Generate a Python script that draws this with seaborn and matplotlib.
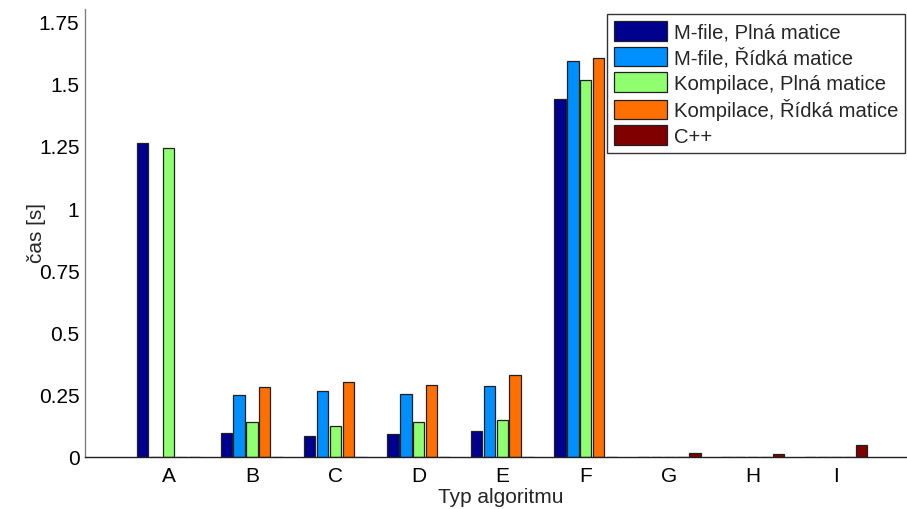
import matplotlib
matplotlib.use("Agg")
import matplotlib.pyplot as plt
import seaborn as sns
import pandas as pd

# Algorithm types and measured run times in seconds
categories = ["A", "B", "C", "D", "E", "F", "G", "H", "I"]
series_names = [
    "M-file, Plná matice",
    "M-file, Řídká matice",
    "Kompilace, Plná matice",
    "Kompilace, Řídká matice",
    "C++",
]
mfile_full = [1.26, 0.096, 0.083, 0.094, 0.103, 1.44, 0.0, 0.0, 0.0]
mfile_sparse = [0.0, 0.249, 0.265, 0.254, 0.286, 1.593, 0.0, 0.0, 0.0]
comp_full = [1.243, 0.140, 0.126, 0.140, 0.148, 1.516, 0.0, 0.0, 0.0]
comp_sparse = [0.0, 0.281, 0.300, 0.288, 0.328, 1.604, 0.0, 0.0, 0.0]
cpp = [0.0, 0.0, 0.0, 0.0, 0.0, 0.0, 0.016, 0.011, 0.048]

y_ticks = [0, 0.25, 0.5, 0.75, 1, 1.25, 1.5, 1.75]
y_tick_labels = ["0", "0.25", "0.5", "0.75", "1", "1.25", "1.5", "1.75"]

colors = ["#00008F", "#008FFF", "#8FFF70", "#FF7000", "#800000"]

rows = []
for name, vals in zip(series_names,
                      [mfile_full, mfile_sparse, comp_full, comp_sparse, cpp]):
    for cat, v in zip(categories, vals):
        rows.append({"Typ": cat, "Řada": name, "čas": v})
df = pd.DataFrame(rows)

sns.set_style("white")
plt.rcParams["font.family"] = ["Liberation Sans", "DejaVu Sans"]
FS = 15

fig = plt.figure(figsize=(9.07, 5.10), dpi=100)
ax = fig.add_axes([85 / 907, 52 / 510, 822 / 907, 448 / 510])

sns.barplot(
    data=df, x="Typ", y="čas", hue="Řada", hue_order=series_names,
    order=categories, palette=colors, width=0.77, gap=0.12,
    edgecolor="#202020", linewidth=0.9, errorbar=None, ax=ax,
    saturation=1,
)

ax.set_xlim(-1, 8.85)
ax.set_ylim(0, 1.8)
ax.set_yticks(y_ticks)
ax.set_yticklabels(y_tick_labels)
ax.tick_params(axis="both", direction="in", length=5, width=0.8,
               colors="#303030", labelcolor="black", labelsize=FS)
ax.tick_params(axis="y", pad=4)
ax.tick_params(axis="x", pad=6.5)

for side in ["top", "right"]:
    ax.spines[side].set_visible(False)
ax.spines["left"].set_color("#808080")
ax.spines["bottom"].set_color("#202020")
ax.spines["left"].set_linewidth(1.0)
ax.spines["bottom"].set_linewidth(1.0)

ax.set_xlabel("Typ algoritmu", fontsize=FS)
ax.set_ylabel("čas [s]", fontsize=FS)
ax.xaxis.set_label_coords(0.506, -0.068)
ax.yaxis.set_label_coords(-0.047, 0.503)

leg = ax.legend(
    loc="upper left", bbox_to_anchor=(607 / 907, 1 - 15 / 510),
    bbox_transform=fig.transFigure, fontsize=14.6, frameon=True,
    fancybox=False, handlelength=2.6, handleheight=1.1,
    handletextpad=0.35, labelspacing=0.25, borderaxespad=0,
    borderpad=0.35,
)
leg.get_frame().set_edgecolor("black")
leg.get_frame().set_linewidth(1.0)

fig.savefig("out.png", dpi=100)
